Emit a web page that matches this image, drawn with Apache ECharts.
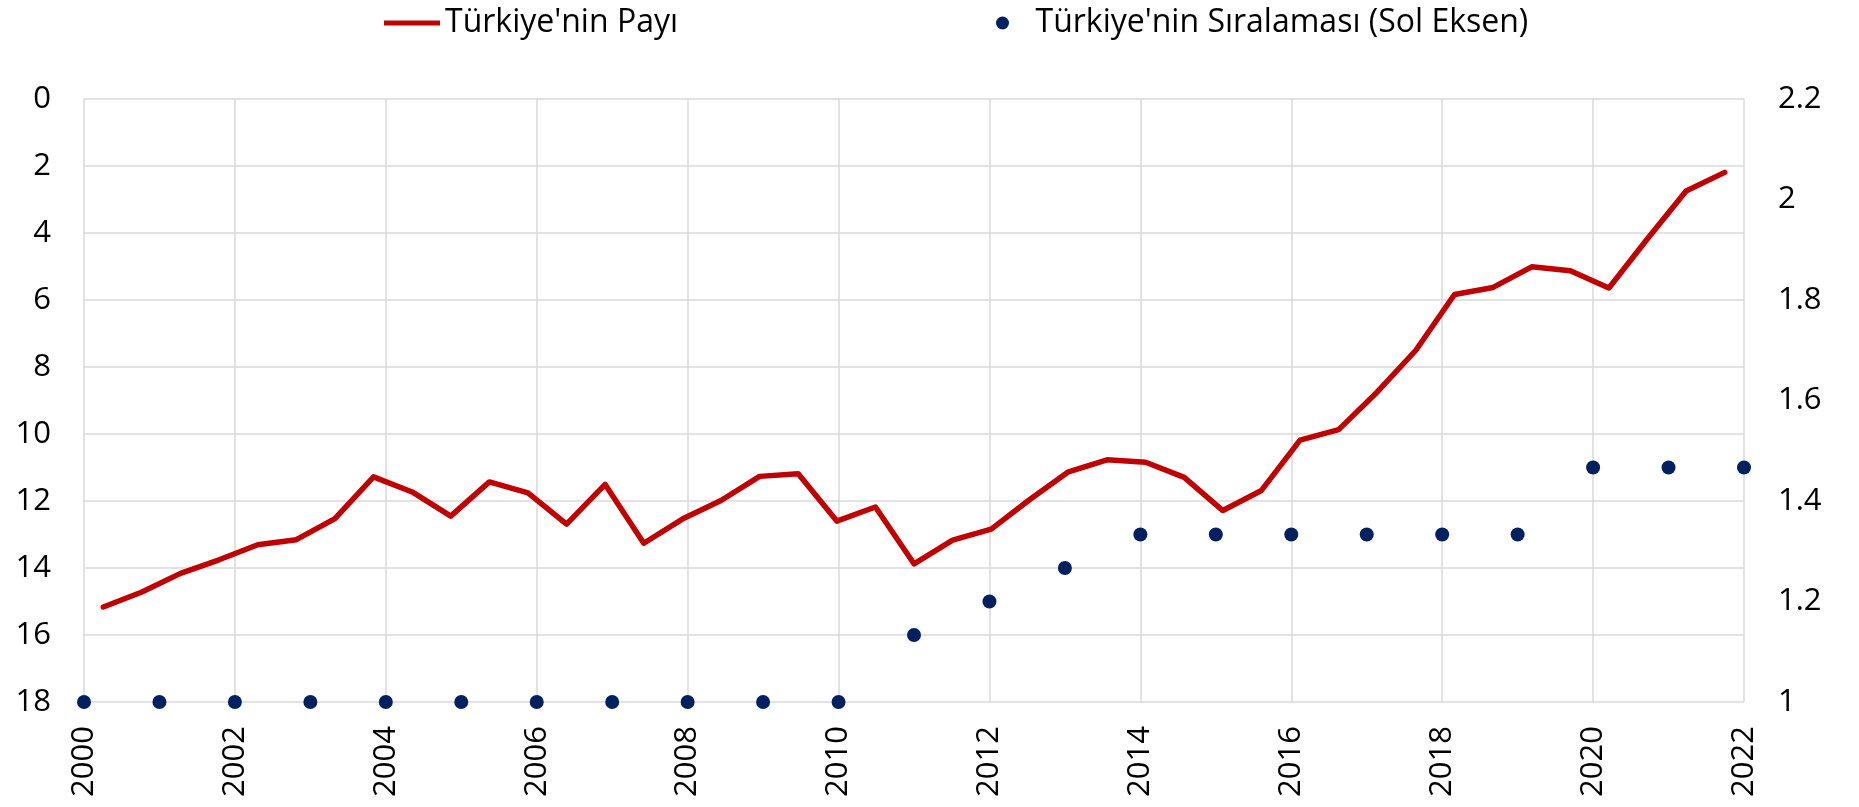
<!DOCTYPE html>
<html>
<head>
<meta charset="utf-8">
<title>Türkiye'nin Payı ve Sıralaması</title>
<script src="https://cdn.jsdelivr.net/npm/echarts@6/dist/echarts.min.js"></script>
<style>
    html, body { margin: 0; padding: 0; background: #fff; }
    #main { width: 1859px; height: 807px; }
</style>
</head>
<body>
<div id="main"></div>
<script>
// yıllar (alt eksen, noktalar için)
var years = ['2000', '2001', '2002', '2003', '2004', '2005', '2006', '2007', '2008', '2009', '2010',
    '2011', '2012', '2013', '2014', '2015', '2016', '2017', '2018', '2019', '2020', '2021', '2022'];

// Türkiye'nin sıralaması (sol eksen)
var rankValues = [18, 18, 18, 18, 18, 18, 18, 18, 18, 18, 18,
    16, 15, 14, 13, 13, 13, 13, 13, 13, 11, 11, 11];

// altı aylık dönemler (çizgi için, gizli eksen)
var periods = ['2000-II',
    '2001-I', '2001-II', '2002-I', '2002-II', '2003-I', '2003-II', '2004-I', '2004-II',
    '2005-I', '2005-II', '2006-I', '2006-II', '2007-I', '2007-II', '2008-I', '2008-II',
    '2009-I', '2009-II', '2010-I', '2010-II', '2011-I', '2011-II', '2012-I', '2012-II',
    '2013-I', '2013-II', '2014-I', '2014-II', '2015-I', '2015-II', '2016-I', '2016-II',
    '2017-I', '2017-II', '2018-I', '2018-II', '2019-I', '2019-II', '2020-I', '2020-II',
    '2021-I', '2021-II'];

// Türkiye'nin payı (sağ eksen)
var payValues = [1.189,
    1.219, 1.256, 1.283, 1.313, 1.323, 1.365, 1.448, 1.418,
    1.370, 1.438, 1.416, 1.354, 1.433, 1.316, 1.364, 1.401,
    1.449, 1.454, 1.360, 1.388, 1.275, 1.322, 1.344, 1.403,
    1.458, 1.482, 1.477, 1.447, 1.381, 1.421, 1.521, 1.542,
    1.617, 1.700, 1.811, 1.825, 1.866, 1.858, 1.824, 1.922,
    2.017, 2.054];

var leftTicks = { min: 0, max: 18, interval: 2 };
var rightTicks = { min: 1, max: 2.2, interval: 0.2 };

var FONT = "'Open Sans', 'Noto Sans', sans-serif";
var chart = echarts.init(document.getElementById('main'), null, { renderer: 'canvas' });

var option = {
    animation: false,
    backgroundColor: '#fff',
    textStyle: { fontFamily: FONT },
    legend: [{
        left: 379,
        top: 1,
        icon: 'rect',
        itemWidth: 56,
        itemHeight: 5,
        textStyle: { fontFamily: FONT, fontSize: 32, color: '#000', lineHeight: 34 },
        data: ["Türkiye'nin Payı"]
    }, {
        left: 991,
        top: 1,
        icon: 'circle',
        itemWidth: 56,
        itemHeight: 13,
        textStyle: { fontFamily: FONT, fontSize: 32, color: '#000', lineHeight: 34 },
        data: ["Türkiye'nin Sıralaması (Sol Eksen)"]
    }],
    grid: {
        left: 84,
        right: 115,
        top: 99,
        bottom: 105,
        containLabel: false
    },
    xAxis: [{
        type: 'category',
        data: years,
        boundaryGap: false,
        position: 'bottom',
        axisLine: { show: false },
        axisTick: { show: false },
        axisLabel: {
            interval: 1,
            rotate: 90,
            margin: 24,
            fontFamily: FONT,
            fontSize: 31,
            color: '#000'
        },
        splitLine: {
            show: true,
            interval: 1,
            lineStyle: { color: '#d9d9d9', width: 1.5 }
        }
    }, {
        // çizgi için ikinci (gizli) eksen
        type: 'category',
        data: periods,
        boundaryGap: true,
        position: 'top',
        show: false
    }],
    yAxis: [{
        type: 'value',
        inverse: true,
        min: leftTicks.min,
        max: leftTicks.max,
        interval: leftTicks.interval,
        position: 'left',
        axisLine: { show: false },
        axisTick: { show: false },
        axisLabel: { margin: 33, fontFamily: FONT, fontSize: 31, color: '#000' },
        splitLine: { show: true, lineStyle: { color: '#d9d9d9', width: 1.5 } }
    }, {
        type: 'value',
        min: rightTicks.min,
        max: rightTicks.max,
        interval: rightTicks.interval,
        position: 'right',
        axisLine: { show: false },
        axisTick: { show: false },
        axisLabel: {
            margin: 34,
            fontFamily: FONT,
            fontSize: 31,
            color: '#000',
            formatter: function (v) { return String(Math.round(v * 10) / 10); }
        },
        splitLine: { show: false }
    }],
    series: [{
        name: "Türkiye'nin Payı",
        type: 'line',
        xAxisIndex: 1,
        yAxisIndex: 1,
        data: payValues,
        showSymbol: false,
        symbol: 'none',
        lineStyle: { color: '#c00000', width: 5.5, cap: 'round', join: 'round' },
        itemStyle: { color: '#c00000' },
        z: 3
    }, {
        name: "Türkiye'nin Sıralaması (Sol Eksen)",
        type: 'scatter',
        xAxisIndex: 0,
        yAxisIndex: 0,
        data: rankValues,
        symbol: 'circle',
        symbolSize: 14,
        clip: false,
        itemStyle: { color: '#002060', opacity: 1 },
        z: 4
    }]
};

chart.setOption(option);
</script>
</body>
</html>
